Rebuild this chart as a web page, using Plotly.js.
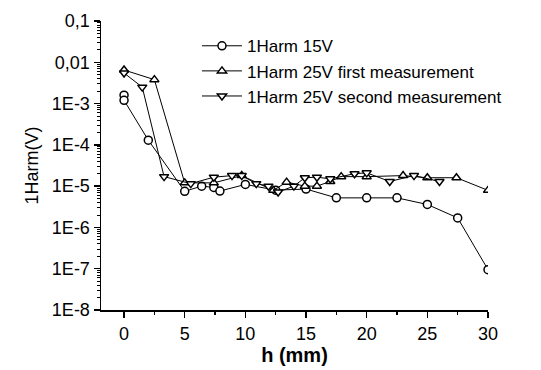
<!DOCTYPE html>
<html>
<head>
<meta charset="utf-8">
<script src="https://cdn.plot.ly/plotly-3.0.1.min.js"></script>
<style>html,body{margin:0;padding:0;background:#fff;}#chart{width:541px;height:370px;}</style>
</head>
<body>
<div id="chart"></div>
<script>
// Series 1: 1Harm 15V
var h15 = [0, 0, 2, 5, 6.4, 7.4, 7.9, 10, 12.5, 15, 17.5, 20, 22.5, 25, 27.5, 30];
var v15 = [1.6e-3, 1.2e-3, 1.3e-4, 7.5e-6, 1.0e-5, 9.3e-6, 7.6e-6, 1.1e-5, 8e-6, 8.5e-6, 5.2e-6, 5.2e-6, 5.2e-6, 3.6e-6, 1.7e-6, 9.5e-8];
// Series 2: 1Harm 25V first measurement
var h25a = [0, 2.5, 5, 7.4, 9.7, 12.3, 13.4, 14.9, 15.9, 17, 17.9, 20, 23, 25, 27.4, 30];
var v25a = [6.5e-3, 3.8e-3, 1.2e-5, 1.2e-5, 1.8e-5, 7.9e-6, 1.25e-5, 1.0e-5, 1.0e-5, 1.3e-5, 1.7e-5, 1.7e-5, 1.8e-5, 1.6e-5, 1.6e-5, 7.9e-6];
// Series 3: 1Harm 25V second measurement
var h25b = [0, 1.5, 3.3, 5.5, 7.4, 8.9, 9.7, 10.9, 11.9, 12.7, 14, 14.9, 15.9, 17, 19, 20, 21.9, 23.9, 26];
var v25b = [5.5e-3, 2.5e-3, 1.7e-5, 1.15e-5, 1.65e-5, 1.8e-5, 1.8e-5, 1.15e-5, 1.0e-5, 7.2e-6, 1.0e-5, 1.6e-5, 1.65e-5, 1.5e-5, 2e-5, 2.1e-5, 1.3e-5, 1.8e-5, 1.3e-5];

var seriesNames = ['1Harm 15V', '1Harm 25V first measurement', '1Harm 25V second measurement'];
var yTickVals = [1e-1, 1e-2, 1e-3, 1e-4, 1e-5, 1e-6, 1e-7, 1e-8];
var yTickText = ['0,1', '0,01', '1E-3', '1E-4', '1E-5', '1E-6', '1E-7', '1E-8'];

var minorY = [];
for (var e = -8; e < -1; e++) {
  for (var m = 2; m <= 9; m++) minorY.push(m * Math.pow(10, e));
}

function tr(x, y, name, sym) {
  return {
    x: x, y: y, name: name, type: 'scatter', mode: 'lines+markers',
    line: {color: 'black', width: 1},
    marker: {symbol: sym, size: 8, color: 'white', line: {color: 'black', width: 1.5}}
  };
}

var data = [
  tr(h15, v15, seriesNames[0], 'circle'),
  tr(h25a, v25a, seriesNames[1], 'triangle-up'),
  tr(h25b, v25b, seriesNames[2], 'triangle-down')
];

var fam = '"Liberation Sans", Arial, sans-serif';

var layout = {
  width: 541, height: 370,
  margin: {l: 101, r: 53, t: 21, b: 60, pad: 0},
  paper_bgcolor: 'white', plot_bgcolor: 'white',
  font: {family: fam, color: 'black', size: 18},
  showlegend: true,
  legend: {x: 0.248, y: 0.975, xanchor: 'left', yanchor: 'top', bgcolor: 'rgba(0,0,0,0)',
           font: {family: fam, size: 17, color: 'black'}, tracegroupgap: 0, itemwidth: 40},
  xaxis: {
    range: [-1.9, 30], showgrid: false, zeroline: false,
    showline: true, linecolor: 'black', linewidth: 1.5,
    ticks: 'outside', ticklen: 6, tickwidth: 1.5, tickcolor: 'black',
    tickmode: 'linear', tick0: 0, dtick: 5,
    minor: {ticks: 'outside', ticklen: 3, tickwidth: 1.5, tickcolor: 'black', dtick: 2.5, tick0: 0, showgrid: false},
    tickfont: {family: fam, size: 18, color: 'black'},
    ticklabelstandoff: 1,
    title: {text: '<b>h (mm)</b>', font: {family: fam, size: 20, color: 'black'}, standoff: 3}
  },
  yaxis: {
    type: 'log', range: [-8, -1], showgrid: false, zeroline: false,
    showline: true, linecolor: 'black', linewidth: 1.5,
    ticks: 'outside', ticklen: 6, tickwidth: 1.5, tickcolor: 'black',
    tickmode: 'array', tickvals: yTickVals, ticktext: yTickText,
    minor: {ticks: 'outside', ticklen: 3, tickwidth: 1, tickcolor: 'black', tickmode: 'array', tickvals: minorY, showgrid: false},
    tickfont: {family: fam, size: 18, color: 'black'},
    title: {text: '1Harm(V)', font: {family: fam, size: 18, color: 'black'}, standoff: 8}
  }
};

Plotly.newPlot('chart', data, layout, {displayModeBar: false, staticPlot: true});
</script>
</body>
</html>
